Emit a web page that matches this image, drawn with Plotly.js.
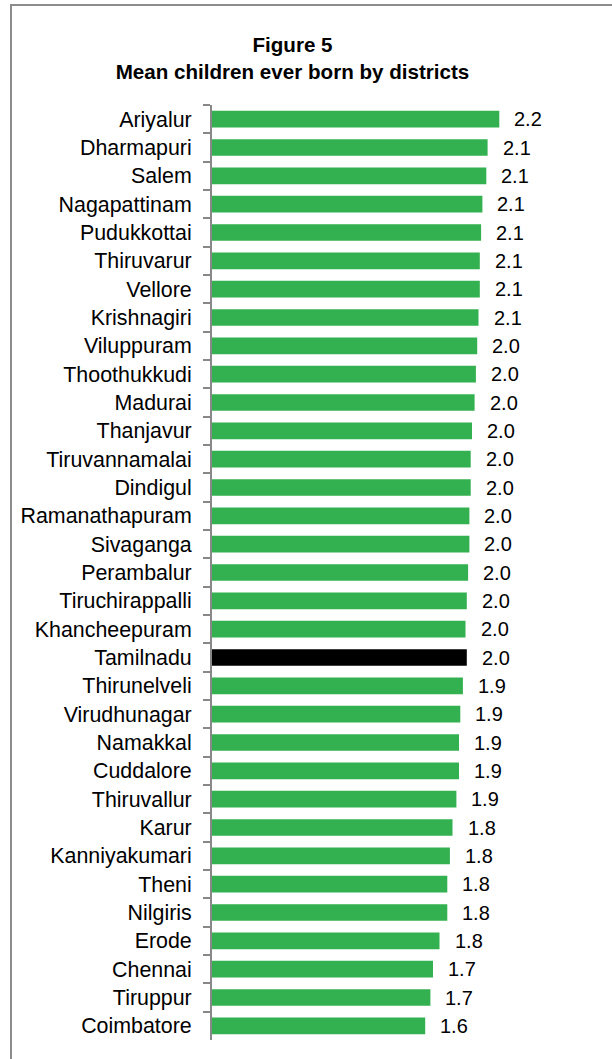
<!DOCTYPE html>
<html>
<head>
<meta charset="utf-8">
<script src="https://cdn.plot.ly/plotly-3.0.1.min.js"></script>
<style>
  html, body { margin: 0; padding: 0; background: #fff; }
  #wrap { position: relative; width: 612px; height: 1059px; overflow: hidden; }
  #chart { width: 612px; height: 1059px; }
  #frame { position: absolute; left: 10px; top: 4px; width: 700px; height: 1100px;
           border: 2px solid #8c8c8c; pointer-events: none; box-sizing: border-box; }
</style>
</head>
<body>
<div id="wrap">
  <div id="chart"></div>
  <div id="frame"></div>
</div>
<script>
// Data (top to bottom as in the figure)
const districts = [
  "Ariyalur", "Dharmapuri", "Salem", "Nagapattinam", "Pudukkottai", "Thiruvarur",
  "Vellore", "Krishnagiri", "Viluppuram", "Thoothukkudi", "Madurai", "Thanjavur",
  "Tiruvannamalai", "Dindigul", "Ramanathapuram", "Sivaganga", "Perambalur",
  "Tiruchirappalli", "Khancheepuram", "Tamilnadu", "Thirunelveli", "Virudhunagar",
  "Namakkal", "Cuddalore", "Thiruvallur", "Karur", "Kanniyakumari", "Theni",
  "Nilgiris", "Erode", "Chennai", "Tiruppur", "Coimbatore"
];
const meanChildren = [
  2.21, 2.12, 2.11, 2.08, 2.07, 2.06,
  2.06, 2.05, 2.04, 2.03, 2.02, 2.00,
  1.99, 1.99, 1.98, 1.98, 1.97,
  1.96, 1.95, 1.96, 1.93, 1.91,
  1.90, 1.90, 1.88, 1.85, 1.83, 1.81,
  1.81, 1.75, 1.70, 1.68, 1.64
];
const valueLabels = [
  "2.2", "2.1", "2.1", "2.1", "2.1", "2.1",
  "2.1", "2.1", "2.0", "2.0", "2.0", "2.0",
  "2.0", "2.0", "2.0", "2.0", "2.0",
  "2.0", "2.0", "2.0", "1.9", "1.9",
  "1.9", "1.9", "1.9", "1.8", "1.8", "1.8",
  "1.8", "1.8", "1.7", "1.7", "1.6"
];
const highlight = "Tamilnadu";

const FONT = '"Liberation Sans", Arial, sans-serif';
const colors = districts.map(d => d === highlight ? "#000000" : "#33B04F");

const trace = {
  type: "bar",
  orientation: "h",
  y: districts,
  x: meanChildren,
  marker: { color: colors, line: { width: 0 } },
  hoverinfo: "none"
};

const annotations = districts.map((d, i) => ({
  x: meanChildren[i], y: d, xref: "x", yref: "y",
  text: valueLabels[i], showarrow: false,
  xanchor: "left", yanchor: "middle", xshift: 13,
  font: { family: FONT, size: 20, color: "#000" }
}));

const layout = {
  width: 612, height: 1059,
  margin: { l: 212, r: 10, t: 105, b: 19, pad: 0 },
  paper_bgcolor: "#fff", plot_bgcolor: "#fff",
  showlegend: false,
  bargap: 0.41,
  title: {
    text: "<b>Figure 5</b><br><b>Mean children ever born by districts</b>",
    font: { family: FONT, size: 20.6, color: "#000" },
    xref: "container", x: 292.5 / 612, xanchor: "center",
    yref: "container", y: 1 - 52 / 1059, yanchor: "middle"
  },
  xaxis: {
    range: [0, 3], visible: false, showgrid: false, zeroline: false, fixedrange: true
  },
  yaxis: {
    type: "category",
    autorange: "reversed",
    showline: true, linecolor: "#888888", linewidth: 2,
    ticks: "outside", ticklen: 7, tickwidth: 2, tickcolor: "#888888",
    tickson: "boundaries",
    ticklabelstandoff: 14,
    tickfont: { family: FONT, size: 21.4, color: "#000" },
    showgrid: false, zeroline: false, fixedrange: true
  },
  annotations: annotations
};

Plotly.newPlot("chart", [trace], layout, { staticPlot: true, displayModeBar: false });
</script>
</body>
</html>
